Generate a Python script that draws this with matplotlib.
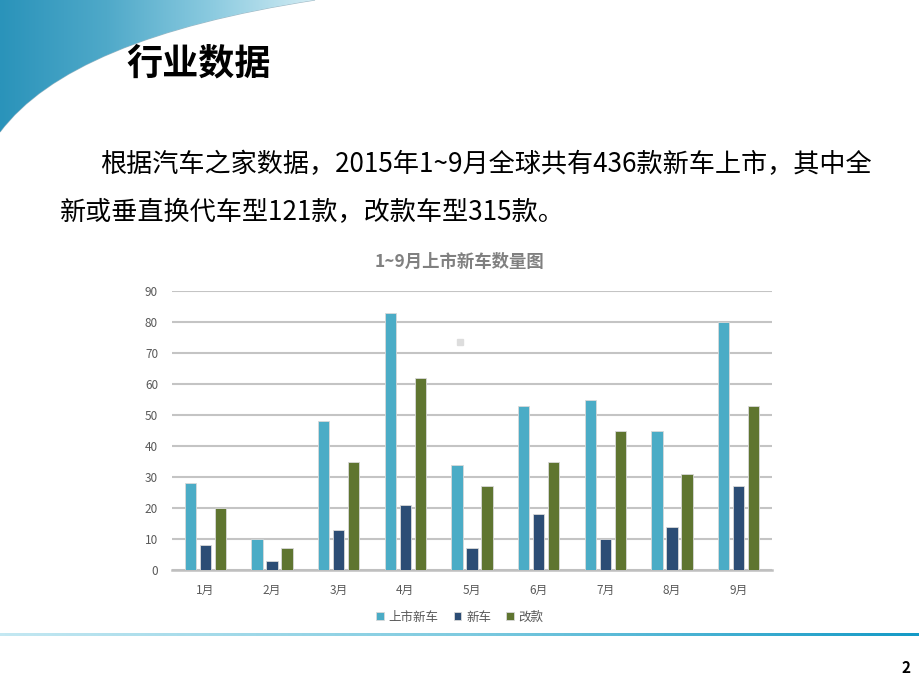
import numpy as np
import matplotlib.pyplot as plt
from matplotlib.path import Path
from matplotlib.patches import PathPatch, Rectangle
from matplotlib.colors import LinearSegmentedColormap

plt.rcParams['font.family'] = ['Noto Sans CJK SC', 'DejaVu Sans']

# data
months = ['1月', '2月', '3月', '4月', '5月', '6月', '7月', '8月', '9月']
launched = [28, 10, 48, 83, 34, 53, 55, 45, 80]   # 上市新车
new_cars = [8, 3, 13, 21, 7, 18, 10, 14, 27]       # 新车
facelift = [20, 7, 35, 62, 27, 35, 45, 31, 53]     # 改款
series_names = ['上市新车', '新车', '改款']
colors = ['#4BACC6', '#2C4D75', '#5F7530']

fig = plt.figure(figsize=(9.2, 6.9), dpi=100)

# background layer in pixel coords
bg = fig.add_axes([0, 0, 1, 1], zorder=0)
bg.axis('off')

# top-left swoosh with gradient
verts = [(0, 0), (315, 0), (70, 38), (0, 132), (0, 0)]
codes = [Path.MOVETO, Path.LINETO, Path.CURVE3, Path.CURVE3, Path.CLOSEPOLY]
swoosh = PathPatch(Path(verts, codes), facecolor='none', edgecolor='#9fb8c4', lw=0.8)
bg.add_patch(swoosh)
grad = np.linspace(0, 1, 256).reshape(1, -1)
cm_top = LinearSegmentedColormap.from_list('top', ['#2a93ba', '#4fa9c9', '#8ccbe0', '#d6eef5'])
im = bg.imshow(grad, cmap=cm_top, extent=(0, 320, 132, 0), aspect='auto', zorder=1)
im.set_clip_path(swoosh)

# bottom gradient line
cm_line = LinearSegmentedColormap.from_list('line', ['#c4e8f2', '#7fcbe0', '#149ac6'])
bg.imshow(grad, cmap=cm_line, extent=(0, 920, 636, 633), aspect='auto', zorder=1)

# small grey square artifact
bg.add_patch(Rectangle((457, 339), 6, 6, color='#dddddd', zorder=2))

bg.set_xlim(0, 920)
bg.set_ylim(690, 0)

# headings and body text
fig.text(126 / 920, 1 - 64 / 690, '行业数据', fontsize=26, fontweight='bold',
         va='center', ha='left', color='black')
fig.text(100 / 920, 1 - 165 / 690, '根据汽车之家数据，2015年1~9月全球共有436款新车上市，其中全',
         fontsize=18.8, va='center', ha='left', color='black')
fig.text(60 / 920, 1 - 213 / 690, '新或垂直换代车型121款，改款车型315款。',
         fontsize=18.8, va='center', ha='left', color='black')
fig.text(906 / 920, 1 - 668 / 690, '2', fontsize=11, fontweight='bold',
         va='center', ha='center', color='black')

# chart
fig.text(460 / 920, 1 - 262 / 690, '1~9月上市新车数量图', fontsize=12.5,
         fontweight='bold', color='#808080', ha='center', va='center')

ax = fig.add_axes([172 / 920, 120 / 690, 600 / 920, 279 / 690], zorder=2)
ax.patch.set_alpha(0)
x = np.arange(len(months))
w = 0.17
for i, (vals, name, c) in enumerate(zip([launched, new_cars, facelift], series_names, colors)):
    ax.bar(x + (i - 1) * 0.225, vals, width=w, color=c, edgecolor='#d9d9d9',
           linewidth=0.6, label=name, zorder=3)

ax.set_xlim(-0.5, len(months) - 0.5)
ax.set_ylim(0, 90)
ax.set_yticks(range(0, 91, 10))
ax.set_xticks(x)
ax.set_xticklabels(months)
ax.yaxis.grid(True, color='#c4c4c4', linewidth=1.5, zorder=0)
ax.set_axisbelow(True)
for s in ['top', 'right', 'left']:
    ax.spines[s].set_visible(False)
ax.spines['bottom'].set_color('#bfbfbf')
ax.spines['bottom'].set_linewidth(1.8)
ax.tick_params(axis='both', length=0, labelsize=8.5, labelcolor='#595959')
ax.tick_params(axis='y', pad=10)
ax.tick_params(axis='x', pad=10)

ax.legend(loc='upper center', bbox_to_anchor=(0.48, -0.105), ncol=3, frameon=False,
          fontsize=9, labelcolor='#595959', handlelength=0.6, handleheight=0.6,
          columnspacing=1.2, handletextpad=0.4)

fig.savefig('out.png', dpi=100)
